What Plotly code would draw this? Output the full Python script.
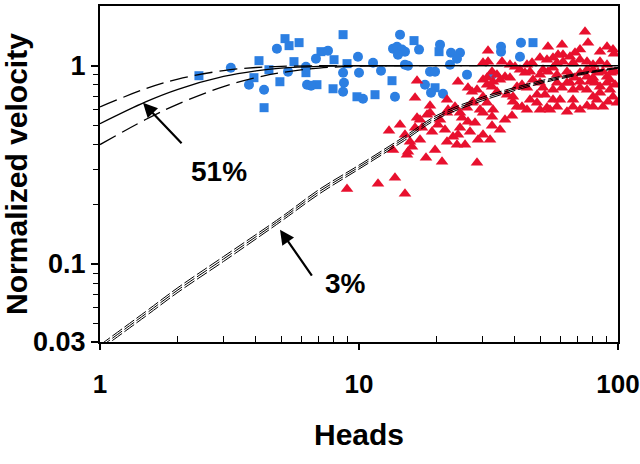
import plotly.graph_objects as go

# ---------------- data ----------------
sq_x = [2.41, 4.11, 3.93, 4.30, 4.49, 4.95, 5.18, 5.37, 5.87, 5.61, 6.24, 6.88, 7.13, 8.01, 7.94,
        8.68, 8.99, 9.82, 11.53, 13.41, 16.31, 19.66, 20.37, 46.97]
sq_y = [0.890, 1.060, 0.870, 0.614, 0.954, 0.830, 1.369, 1.262, 1.307, 1.048, 0.922, 0.802, 1.177, 1.072, 0.765,
        1.434, 1.024, 0.697, 0.714, 0.840, 1.338, 0.774, 1.177, 1.307]

ci_x = [3.20, 3.76, 4.30, 4.82, 5.32, 6.24, 6.30, 6.53, 6.82, 7.59, 8.68, 8.75, 8.68, 9.91, 10.0,
        10.36, 11.33, 12.16, 13.77, 14.40, 13.53, 14.02, 14.66, 15.05, 14.14, 17.05, 15.05, 15.46, 17.98, 18.80,
        19.66, 18.97, 21.10, 20.55, 22.66, 24.55, 23.89, 22.46, 26.12, 32.63, 35.35, 35.35, 42.21, 41.83]
ci_y = [0.977, 0.802, 0.756, 1.219, 0.933, 0.988, 0.802, 0.792, 1.085, 1.191, 0.922, 0.821, 0.739, 1.110, 0.922,
        0.681, 1.035, 0.943, 0.697, 1.434, 1.219, 1.247, 1.205, 1.177, 1.137, 1.205, 1.012, 1.000, 0.802, 0.933,
        0.933, 0.731, 0.722, 1.277, 1.163, 1.163, 1.085, 1.012, 0.901, 0.901, 1.247, 1.177, 1.307, 1.110]

tri_x = [8.99, 11.84, 13.77, 15.05, 13.53, 13.06, 15.32, 15.46, 15.74, 16.02, 17.20, 18.14, 19.66, 20.92, 21.87,
         23.89, 25.67, 28.55, 30.12, 32.63, 16.46, 19.14, 23.07, 24.11,
         16.46, 16.75, 17.20, 18.31, 18.80, 18.80, 20.55, 21.87, 21.87, 22.07, 23.48, 24.55, 24.99, 26.12, 26.35,
         27.55, 28.05, 29.33, 30.12, 31.21, 32.63, 32.92, 38.97, 40.74, 42.59, 44.53, 49.97, 53.19, 54.63, 56.11,
         63.55, 67.04, 75.92, 82.99, 91.5, 99.1, 93.14, 80.09,
         16.75, 24.11, 26.35, 27.31, 28.55, 30.12, 31.21, 32.63, 34.10, 35.03, 36.62, 32.63, 34.10, 37.28, 39.32,
         41.83, 43.74, 40.74, 42.59, 44.53, 46.97, 49.97, 51.33, 53.66, 56.11, 48.68, 52.25, 58.15, 60.79, 63.55,
         65.27, 68.23, 71.34, 67.04, 71.34, 75.92, 77.98, 81.53, 83.73, 87.5, 90.7, 93.14, 97.36, 85.22, 75.92, 93.97,
         74.58, 76.61, 53.66, 60.79, 31.49, 90.7, 85.22, 95.65, 96.5, 71.34, 68.23, 65.27, 61.33, 58.67, 49.97,
         53.19, 56.11, 30.12, 31.49, 35.66, 38.28, 40.03, 44.53, 46.56, 58.15, 61.33, 67.04, 71.34, 75.92, 80.09,
         85.22, 90.7, 75.92, 80.09,
         27.31, 30.12, 39.32, 45.73, 48.68, 58.15, 59.7, 67.04, 71.34, 80.09, 87.5, 85.22, 95.65, 56.11, 51.33,
         65.27, 71.34, 80.09, 90.7, 97.36, 63.55, 58.15, 49.97, 45.73, 38.28, 32.92, 31.21,
         14.40, 15.05, 17.51, 20.18, 21.48, 24.55, 26.83, 28.81, 35.03, 36.62, 32.06]
tri_y = [0.239, 0.254, 0.272, 0.226, 0.376, 0.470, 0.355, 0.368, 0.413, 0.390, 0.423, 0.343, 0.376, 0.328, 0.413,
         0.399, 0.399, 0.324, 0.448, 0.498, 0.486, 0.464, 0.438, 0.448,
         0.689, 0.546, 0.534, 0.566, 0.579, 0.628, 0.534, 0.673, 0.579, 0.600, 0.621, 0.579, 0.546, 0.614, 0.521,
         0.658, 0.515, 0.600, 0.579, 0.650, 0.553, 0.600, 0.559, 0.621, 0.621, 0.600, 0.600, 0.614, 0.600, 0.673,
         0.586, 0.621, 0.628, 0.673, 0.658, 0.650, 0.756, 0.697,
         0.840, 0.830, 0.774, 0.739, 0.756, 0.850, 0.802, 0.933, 0.901, 0.850, 0.880, 0.783, 0.739, 0.714, 0.697,
         0.954, 0.922, 0.783, 0.802, 0.774, 0.850, 0.821, 0.954, 0.933, 0.977, 0.714, 0.714, 0.821, 0.774, 0.821,
         0.901, 0.870, 0.922, 0.756, 0.774, 0.880, 0.830, 0.821, 0.922, 0.933, 0.880, 0.850, 0.802, 0.783, 0.756, 0.922,
         1.485, 1.307, 1.247, 1.277, 1.191, 1.247, 1.177, 1.205, 1.150, 1.205, 1.163, 1.110, 1.137, 1.137, 1.098,
         1.072, 1.098, 1.035, 1.048, 1.048, 1.012, 0.988, 1.012, 1.035, 1.035, 1.048, 1.035, 1.072, 1.048, 1.012,
         1.048, 1.012, 0.954, 0.954,
         0.650, 0.697, 0.658, 0.673, 0.650, 0.621, 0.673, 0.673, 0.600, 0.621, 0.621, 0.731, 0.697, 0.756, 0.774,
         0.821, 0.830, 0.870, 0.821, 0.933, 0.933, 0.901, 0.901, 0.933, 0.870, 0.830, 0.870,
         0.503, 0.448, 0.486, 0.503, 0.475, 0.486, 0.464, 0.423, 0.475, 0.534, 0.423]

# model curves
c51_x = [1, 1.5, 2, 3, 4, 5, 7, 10, 20, 50, 100]
c51_hi = [0.62, 0.765, 0.856, 0.945, 0.979, 0.992, 0.999, 1.0, 1.0, 1.0, 1.0]
c51_mid = [0.51, 0.657, 0.76, 0.882, 0.942, 0.972, 0.993, 0.999, 1.0, 1.0, 1.0]
c51_lo = [0.40, 0.535, 0.64, 0.784, 0.87, 0.922, 0.972, 0.994, 1.0, 1.0, 1.0]

c3_x = [1, 1.5, 2, 3, 5, 7, 10, 15, 20, 30, 50, 70, 100]
c3_hi = [0.039, 0.0575, 0.076, 0.109, 0.172, 0.237, 0.315, 0.44, 0.562, 0.694, 0.838, 0.915, 0.98]
c3_mid = [0.038, 0.056, 0.074, 0.106, 0.168, 0.231, 0.308, 0.43, 0.55, 0.68, 0.825, 0.905, 0.975]
c3_lo = [0.037, 0.0545, 0.072, 0.103, 0.164, 0.225, 0.301, 0.42, 0.538, 0.666, 0.812, 0.895, 0.97]

x_tick_vals = [1, 10, 100]
x_tick_text = ["1", "10", "100"]
y_tick_vals = [0.0404, 0.1, 1]
y_tick_text = ["0.03", "0.1", "1"]
y_minor_vals = [0.05, 0.06, 0.07, 0.08, 0.09, 0.2, 0.3, 0.4, 0.5, 0.6, 0.7, 0.8, 0.9]
x_minor_vals = [2, 3, 4, 5, 6, 7, 8, 9, 20, 30, 40, 50, 60, 70, 80, 90]

BLUE = "#2C7FE2"
RED = "#E8102E"
FONT = "Liberation Sans, Arial, sans-serif"

fig = go.Figure()

fig.add_trace(go.Scatter(x=sq_x, y=sq_y, mode="markers",
                         marker=dict(symbol="square", size=9, color=BLUE), showlegend=False))
fig.add_trace(go.Scatter(x=ci_x, y=ci_y, mode="markers",
                         marker=dict(symbol="circle", size=10, color=BLUE), showlegend=False))
fig.add_trace(go.Scatter(x=tri_x, y=tri_y, mode="markers",
                         marker=dict(symbol="triangle-up", size=11, color=RED), showlegend=False))

for ys, dash in [(c51_hi, "18px,7px"), (c51_mid, "solid"), (c51_lo, "18px,7px")]:
    fig.add_trace(go.Scatter(x=c51_x, y=ys, mode="lines", line_shape="spline",
                             line=dict(color="black", width=1.3, dash=dash), showlegend=False))
for ys in [c3_hi, c3_mid, c3_lo]:
    fig.add_trace(go.Scatter(x=c3_x, y=ys, mode="lines", line_shape="spline",
                             line=dict(color="black", width=1, dash="12px,3px"), showlegend=False))

fig.update_layout(
    width=640, height=464,
    margin=dict(l=100, r=22, t=6, b=122, autoexpand=False),
    paper_bgcolor="white", plot_bgcolor="white",
    font=dict(family=FONT, color="black"),
)

fig.update_xaxes(
    type="log", range=[0, 2], automargin=False,
    tickmode="array", tickvals=x_tick_vals, ticktext=x_tick_text,
    ticks="outside", ticklen=6, tickwidth=1.5, tickcolor="black",
    minor=dict(tickmode="array", tickvals=x_minor_vals, ticks="inside", ticklen=6,
               tickwidth=1, tickcolor="black", showgrid=False),
    showgrid=False, zeroline=False,
    showline=True, linewidth=2, linecolor="black", mirror=True,
    tickfont=dict(family=FONT, size=26, weight="bold"),
    ticklabelstandoff=12, ticklabeloverflow="allow",
    title=dict(text="Heads", font=dict(family=FONT, size=30, weight="bold"), standoff=26),
)
fig.update_yaxes(
    type="log", range=[-1.3936, 0.301], automargin=False,
    tickmode="array", tickvals=y_tick_vals, ticktext=y_tick_text,
    ticks="outside", ticklen=7, tickwidth=1.5, tickcolor="black",
    minor=dict(tickmode="array", tickvals=y_minor_vals, ticks="outside", ticklen=5,
               tickwidth=1, tickcolor="black", showgrid=False),
    showgrid=False, zeroline=False,
    showline=True, linewidth=2, linecolor="black", mirror=True,
    tickfont=dict(family=FONT, size=27, weight="bold"),
    ticklabeloverflow="allow",
    title=dict(text="Normalized velocity", font=dict(family=FONT, size=30, weight="bold"), standoff=6),
)

# annotations (log axes: positions in log10 units)
fig.add_annotation(x=0.166, y=-0.187, ax=0.3205, ay=-0.399, xref="x", yref="y", axref="x", ayref="y",
                   text="", showarrow=True, arrowhead=2, arrowsize=1.3, arrowwidth=2.2, arrowcolor="black")
fig.add_annotation(x=0.4595, y=-0.535, xref="x", yref="y", text="51%", showarrow=False,
                   font=dict(family=FONT, size=28, weight="bold"))
fig.add_annotation(x=0.695, y=-0.828, ax=0.822, ay=-1.066, xref="x", yref="y", axref="x", ayref="y",
                   text="", showarrow=True, arrowhead=2, arrowsize=1.3, arrowwidth=2.2, arrowcolor="black")
fig.add_annotation(x=0.946, y=-1.10, xref="x", yref="y", text="3%", showarrow=False,
                   font=dict(family=FONT, size=28, weight="bold"))

fig.write_html("out.html", config={"displayModeBar": False},
               post_script="document.body.style.margin='0';document.body.style.overflow='hidden';")
